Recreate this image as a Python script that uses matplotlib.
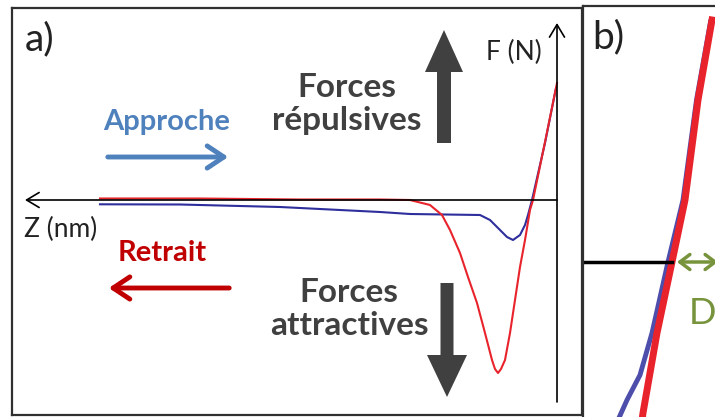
import numpy as np
import matplotlib.pyplot as plt
from matplotlib.patches import FancyArrow, FancyArrowPatch

plt.rcParams['font.family'] = ['Lato', 'DejaVu Sans']

# panel a: force curves, Z in nm (grows to the left), F in arbitrary units
z_retrait = [91.4, 71.4, 51.4, 35.4, 29.4, 25.4, 23.0, 21.4, 19.4, 17.8, 16.0, 14.4,
             13.0, 12.4, 11.8, 11.2, 10.4, 9.4, 8.4, 7.4, 6.4, 5.4, 4.8, 2.4, 0.0]
f_retrait = [0.15, 0.15, 0.05, 0.05, 0.0, -0.5, -1.5, -3.0, -5.3, -7.7, -10.3, -13.3,
             -16.0, -16.9, -17.3, -16.9, -16.0, -13.3, -10.0, -6.7, -4.0, -1.0, 0.0, 5.8, 11.7]
z_approche = [91.4, 75.4, 55.4, 35.4, 29.4, 15.4, 13.4, 11.8, 10.0, 8.8, 7.4, 6.4,
              5.8, 5.0, 2.4, 0.2]
f_approche = [-0.43, -0.45, -0.7, -1.2, -1.4, -1.5, -2.0, -2.8, -3.7, -4.0, -3.5, -2.5,
              -1.5, 0.0, 5.7, 11.2]

# panel b: zoom on the contact region
z_b_retrait = [4.0, 2.6, 1.3, 0.0, -1.5, -2.9, -3.0]
f_b_retrait = [24.2, 16.2, 6.2, 0.0, -7.1, -15.1, -15.8]
z_b_approche = [3.85, 2.45, 1.1, -0.4, -2.0, -3.2, -4.5, -5.4]
f_b_approche = [24.0, 16.2, 6.2, 0.0, -7.1, -11.3, -13.8, -15.8]

red = '#E8232B'
navy = '#2E2E9C'
gray = '#404040'
green = '#77933C'

fig = plt.figure(figsize=(7.15, 4.17), dpi=100)

# ---- panel a
ax = fig.add_axes([12/715, 2/417, 570/715, 407/417])
ax.set_xlim(109, -5)
ax.set_ylim(-21.5, 19.2)
ax.set_xticks([])
ax.set_yticks([])
for s in ax.spines.values():
    s.set_linewidth(1.6)
    s.set_color('#303030')

ax.annotate('', xy=(106.4, 0), xytext=(0, 0),
            arrowprops=dict(arrowstyle='->,head_length=0.5,head_width=0.3',
                            lw=1.2, color='black', mutation_scale=18,
                            shrinkA=0, shrinkB=0))
ax.annotate('', xy=(0, 17.7), xytext=(0, -20.2),
            arrowprops=dict(arrowstyle='->,head_length=0.5,head_width=0.3',
                            lw=1.2, color='black', mutation_scale=18,
                            shrinkA=0, shrinkB=0))

ax.plot(z_approche, f_approche, color=navy, lw=1.5)
ax.plot(z_retrait, f_retrait, color=red, lw=1.5)

# ---- panel b
bx = fig.add_axes([583/715, 0, 132/715, 411/417])
bx.set_xlim(-8.9, 4.3)
bx.set_ylim(-15.5, 25.6)
bx.set_xticks([])
bx.set_yticks([])
for k in ['right', 'bottom']:
    bx.spines[k].set_visible(False)
for k in ['left', 'top']:
    bx.spines[k].set_linewidth(1.6)
    bx.spines[k].set_color('#303030')

bx.plot(z_b_approche, f_b_approche, color=navy, lw=3.5, alpha=0.85)
bx.plot(z_b_retrait, f_b_retrait, color=red, lw=5)
bx.plot([-8.9, 0], [0, 0], color='black', lw=2.5)
bx.annotate('', xy=(4.6, 0), xytext=(0.5, 0),
            arrowprops=dict(arrowstyle='<->,head_length=0.4,head_width=0.3',
                            lw=2.5, color=green, mutation_scale=18,
                            shrinkA=0, shrinkB=0), annotation_clip=False)

# ---- overlay: labels and big arrows (pixel coordinates)
ov = fig.add_axes([0, 0, 1, 1])
ov.set_xlim(0, 715)
ov.set_ylim(417, 0)
ov.axis('off')

ov.text(40, 39, 'a)', fontsize=28, ha='center', va='center', color='#222222')
ov.text(608, 37, 'b)', fontsize=28, ha='center', va='center', color='#222222')
ov.text(514, 52, 'F (N)', fontsize=19, ha='center', va='center', color='#222222')
ov.text(61, 229, 'Z (nm)', fontsize=19, ha='center', va='center', color='#222222')
ov.text(702, 314, 'D', fontsize=26, ha='center', va='center', color=green)

ov.text(167, 122, 'Approche', fontsize=21, fontweight='bold', ha='center', va='center',
        color='#4F81BD')
ov.text(162, 253, 'Retrait', fontsize=21, fontweight='bold', ha='center', va='center',
        color='#C00000')
ov.text(347, 104, 'Forces\nrépulsives', fontsize=24, fontweight='bold', ha='center',
        va='center', color=gray, linespacing=1.15)
ov.text(349, 309, 'Forces\nattractives', fontsize=24, fontweight='bold', ha='center',
        va='center', color=gray, linespacing=1.15)

ov.add_patch(FancyArrowPatch((105, 157), (231, 157),
                             arrowstyle='->,head_length=0.6,head_width=0.4',
                             mutation_scale=20, lw=3.5, color='#4F81BD'))
ov.add_patch(FancyArrowPatch((232, 288), (106, 288),
                             arrowstyle='->,head_length=0.6,head_width=0.4',
                             mutation_scale=20, lw=3.5, color='#C00000'))
ov.add_patch(FancyArrow(444, 143, 0, -113, width=14, head_width=38, head_length=42,
                        length_includes_head=True, color=gray, lw=0))
ov.add_patch(FancyArrow(447, 283, 0, 114, width=13, head_width=40, head_length=42,
                        length_includes_head=True, color=gray, lw=0))

fig.savefig('out.png', dpi=100)
